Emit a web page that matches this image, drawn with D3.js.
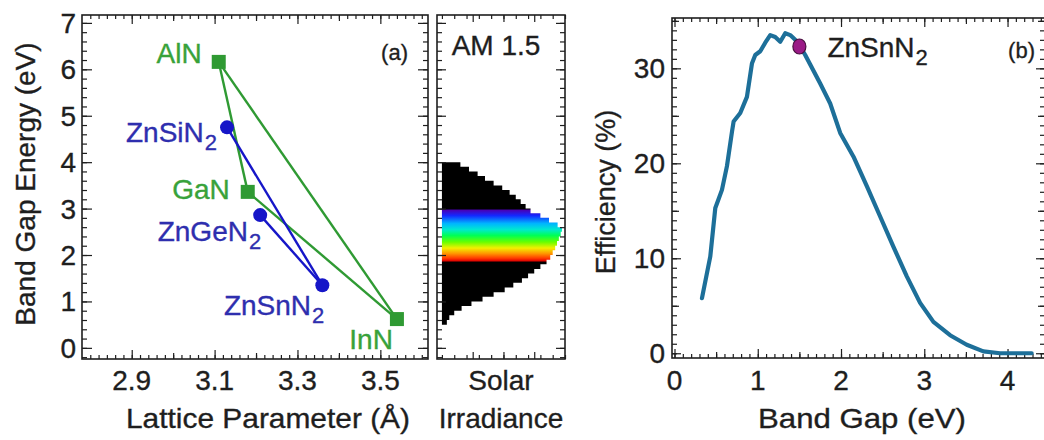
<!DOCTYPE html>
<html>
<head>
	<script src="https://cdn.jsdelivr.net/npm/d3@7"></script>
	<style>
		html, body {
			padding: 0;
			margin: 0;
			background: white;
		}
		text {
			font-family: "Liberation Sans", Arial, sans-serif;
			stroke-width: 0.35;
			paint-order: stroke;
		}
	</style>
</head>
<body>
	<div id="chart"></div>
	<script>
		// ---- data ----
		// panel (a): nitrides, lattice parameter (A) vs band gap (eV)
		var nitrideNames = ["AlN", "GaN", "InN"];
		var nitrideA = [3.11, 3.18, 3.54];
		var nitrideE = [6.16, 3.36, 0.62];
		var znNames = ["ZnSiN", "ZnGeN", "ZnSnN"];
		var znA = [3.13, 3.21, 3.36];
		var znE = [4.75, 2.86, 1.35];
		// tie lines, by index
		var nitrideLinks = [[0, 1], [1, 2], [0, 2]];
		var znLinks = [[0, 2], [1, 2]];

		// AM 1.5 spectrum, photon energy (eV) vs relative irradiance
		var solarE = [0.5, 0.6, 0.7, 0.8, 0.9, 1.0, 1.1, 1.2, 1.3, 1.4, 1.5, 1.6, 1.7, 1.8, 1.9, 2.0,
			2.1, 2.2, 2.3, 2.4, 2.5, 2.6, 2.7, 2.8, 2.9, 3.0, 3.1, 3.2, 3.3, 3.4, 3.5, 3.6, 3.7, 3.8, 3.9, 4.0];
		var solarI = [0.04, 0.06, 0.10, 0.16, 0.24, 0.33, 0.42, 0.51, 0.58, 0.65, 0.70, 0.75, 0.80, 0.85, 0.88, 0.90,
			0.92, 0.935, 0.95, 0.965, 0.975, 0.94, 0.87, 0.80, 0.72, 0.68, 0.64, 0.60, 0.55, 0.49, 0.42, 0.35, 0.29, 0.22, 0.15, 0.06];
		// visible band colours by energy (eV)
		var bandE = [2.99, 2.97, 2.85, 2.68, 2.55, 2.42, 2.28, 2.15, 2.03, 1.93, 1.87, 1.85];
		var bandColor = ["#000000", "#4a00b4", "#1428ff", "#00b4ff", "#00e8d0", "#00ff55", "#66ff00",
			"#f2f000", "#ff9400", "#ff3a00", "#e00000", "#000000"];

		// panel (b): efficiency (%) vs band gap (eV)
		var gapE = [0.33, 0.43, 0.49, 0.52, 0.57, 0.63, 0.69, 0.71, 0.79, 0.87, 0.93, 0.97, 1.03, 1.09, 1.15,
			1.21, 1.27, 1.33, 1.39, 1.45, 1.51, 1.57, 1.63, 1.75, 1.87, 1.99, 2.15, 2.31, 2.47, 2.63,
			2.79, 2.95, 3.11, 3.31, 3.51, 3.71, 3.91, 4.29];
		var effic = [5.8, 10.2, 15.3, 16.0, 17.2, 19.7, 23.3, 24.4, 25.3, 27.0, 30.5, 31.4, 31.8, 32.7, 33.5,
			33.3, 32.8, 33.7, 33.5, 33.0, 32.3, 31.4, 30.4, 28.4, 26.3, 23.2, 20.7, 17.6, 14.4, 11.2,
			8.1, 5.3, 3.3, 1.9, 0.9, 0.2, 0.0, 0.0];
		var markE = 1.5, markEff = 32.3;

		var xTicksA = [2.9, 3.1, 3.3, 3.5];
		var yTicksA = [0, 1, 2, 3, 4, 5, 6, 7];
		var xTicksB = [0, 1, 2, 3, 4];
		var yTicksB = [0, 10, 20, 30];

		// ---- layout ----
		var W = 1044, H = 440;
		var green = "#2f9a33", greenText = "#38a23a";
		var blue = "#1616c8", blueText = "#2e2eae";
		var curveColor = "#1d6f99";
		var ink = "#1e1e1e";
		var fs = 28, fsSub = 22;

		var svg = d3.select("#chart").append("svg")
			.attr("width", W)
			.attr("height", H)
			.style("background-color", "white");

		var boxA = {l: 82, r: 428, t: 15, b: 359};
		var boxS = {l: 437, r: 565, t: 15, b: 359};
		var boxB = {l: 672, r: 1045, t: 18, b: 358};

		var xA = d3.scaleLinear().domain([2.78, 3.615]).range([boxA.l, boxA.r]);
		var yE = d3.scaleLinear().domain([-0.24, 7.17]).range([boxA.b, boxA.t]);
		var xS = d3.scaleLinear().domain([-0.04, 1.0]).range([boxS.l, boxS.r]);
		var xB = d3.scaleLinear().domain([-0.03, 4.45]).range([boxB.l, boxB.r]);
		var yB = d3.scaleLinear().domain([-0.5, 35.3]).range([boxB.b, boxB.t]);

		function label(x, y, str, color, anchor, size) {
			return svg.append("text")
				.attr("x", x).attr("y", y)
				.attr("text-anchor", anchor || "middle")
				.attr("font-size", size || fs)
				.attr("fill", color || ink)
				.attr("stroke", color || ink)
				.text(str);
		}

		// ticks pointing inward, on all four sides
		function ticks(box, xs, ys, xsets, ysets) {
			var g = svg.append("g");
			xsets.forEach(function(s) {
				g.append("g").attr("transform", "translate(0," + box.b + ")")
					.call(d3.axisBottom(xs).tickValues(s.v).tickSizeInner(-s.len).tickSizeOuter(0).tickFormat(""));
				g.append("g").attr("transform", "translate(0," + box.t + ")")
					.call(d3.axisTop(xs).tickValues(s.v).tickSizeInner(-s.len).tickSizeOuter(0).tickFormat(""));
			});
			ysets.forEach(function(s) {
				g.append("g").attr("transform", "translate(" + box.l + ",0)")
					.call(d3.axisLeft(ys).tickValues(s.v).tickSizeInner(-s.len).tickSizeOuter(0).tickFormat(""));
				g.append("g").attr("transform", "translate(" + box.r + ",0)")
					.call(d3.axisRight(ys).tickValues(s.v).tickSizeInner(-s.len).tickSizeOuter(0).tickFormat(""));
			});
			g.selectAll(".domain").remove();
			g.selectAll("line").attr("stroke", ink).attr("stroke-width", 1.2);
			svg.append("rect")
				.attr("x", box.l).attr("y", box.t)
				.attr("width", box.r - box.l).attr("height", box.b - box.t)
				.attr("fill", "none").attr("stroke", ink).attr("stroke-width", 1.6);
		}

		function steps(a, b, st) {
			return d3.range(Math.round((b - a) / st) + 1).map(function(i) { return +(a + i * st).toFixed(3); });
		}

		function subLabel(x, y, name, color, anchor) {
			var t = label(x, y, null, color, anchor);
			t.append("tspan").text(name);
			t.append("tspan").attr("font-size", fsSub).attr("dx", 1).attr("dy", 8).text("2");
			return t;
		}

		// ---- panel (a) ----
		ticks(boxA, xA, yE,
			[{v: steps(2.8, 3.6, 0.02), len: 4}, {v: [3.0, 3.2, 3.4], len: 6}, {v: xTicksA, len: 9}],
			[{v: steps(-0.2, 7.0, 0.2), len: 5}, {v: yTicksA, len: 10}]);

		xTicksA.forEach(function(d) { label(xA(d), 390, d3.format(".1f")(d)); });
		yTicksA.forEach(function(d) { label(76, yE(d) + 10, d, ink, "end"); });

		label((boxA.l + boxA.r) / 2 + 13, 428, "Lattice Parameter (Å)")
			.attr("textLength", 284).attr("lengthAdjust", "spacingAndGlyphs");

		label(0, 0, "Band Gap Energy (eV)")
			.attr("x", null).attr("y", null)
			.attr("transform", "translate(35," + ((boxA.t + boxA.b) / 2 - 3) + ") rotate(-90)");

		label(408, 60, "(a)", ink, "end", 22)
			.attr("font-family", "'Open Sans', sans-serif")
			.attr("stroke-width", 0);

		// tie lines
		nitrideLinks.forEach(function(p) {
			svg.append("line")
				.attr("x1", xA(nitrideA[p[0]])).attr("y1", yE(nitrideE[p[0]]))
				.attr("x2", xA(nitrideA[p[1]])).attr("y2", yE(nitrideE[p[1]]))
				.attr("stroke", green).attr("stroke-width", 2.4);
		});
		znLinks.forEach(function(p) {
			svg.append("line")
				.attr("x1", xA(znA[p[0]])).attr("y1", yE(znE[p[0]]))
				.attr("x2", xA(znA[p[1]])).attr("y2", yE(znE[p[1]]))
				.attr("stroke", blue).attr("stroke-width", 2.4);
		});

		svg.append("g").selectAll("rect")
			.data(nitrideA).enter().append("rect")
			.attr("x", function(d) { return xA(d) - 7; })
			.attr("y", function(d, i) { return yE(nitrideE[i]) - 7; })
			.attr("width", 14).attr("height", 14)
			.attr("fill", green);

		svg.append("g").selectAll("circle")
			.data(znA).enter().append("circle")
			.attr("cx", function(d) { return xA(d); })
			.attr("cy", function(d, i) { return yE(znE[i]); })
			.attr("r", 7)
			.attr("fill", blue);

		// labels: offsets from the marker to the text end / baseline
		var nitrideLabelOff = [[-17, 1], [-18, 7], [-4, 30]];
		var znLabelOff = [[-10, 15], [1, 26], [2, 30]];

		nitrideNames.forEach(function(n, i) {
			label(xA(nitrideA[i]) + nitrideLabelOff[i][0], yE(nitrideE[i]) + nitrideLabelOff[i][1], n, greenText, "end");
		});
		znNames.forEach(function(n, i) {
			subLabel(xA(znA[i]) + znLabelOff[i][0], yE(znE[i]) + znLabelOff[i][1], n, blueText, "end");
		});

		// ---- AM 1.5 panel ----
		var defs = svg.append("defs");
		var gy0 = yE(bandE[0]), gy1 = yE(bandE[bandE.length - 1]);
		var grad = defs.append("linearGradient")
			.attr("id", "rainbow")
			.attr("gradientUnits", "userSpaceOnUse")
			.attr("x1", 0).attr("x2", 0)
			.attr("y1", gy0).attr("y2", gy1);
		bandE.forEach(function(e, i) {
			grad.append("stop")
				.attr("offset", (yE(e) - gy0) / (gy1 - gy0))
				.attr("stop-color", bandColor[i]);
		});

		var solar = solarE.map(function(e, i) { return {e: e, v: solarI[i]}; });
		var area = d3.area()
			.y(function(d) { return yE(d.e); })
			.x0(xS(0))
			.x1(function(d) { return xS(d.v); })
			.curve(d3.curveStepBefore);
		svg.append("path")
			.datum(solar)
			.attr("d", area)
			.attr("fill", "url(#rainbow)");

		ticks(boxS, xS, yE,
			[{v: steps(0, 1, 0.1), len: 4}, {v: [0.25, 0.5, 0.75], len: 7}],
			[{v: steps(-0.2, 7.0, 0.2), len: 5}, {v: yTicksA, len: 9}]);

		label(496, 55, "AM 1.5");
		label((boxS.l + boxS.r) / 2, 390, "Solar");
		label((boxS.l + boxS.r) / 2, 428, "Irradiance");

		// ---- panel (b) ----
		ticks(boxB, xB, yB,
			[{v: steps(0, 4.4, 0.1), len: 4}, {v: [0.5, 1.5, 2.5, 3.5], len: 6}, {v: xTicksB, len: 9}],
			[{v: steps(0, 35, 1), len: 5}, {v: [5, 15, 25, 35], len: 7}, {v: yTicksB, len: 9}]);

		xTicksB.forEach(function(d) { label(xB(d), 390, d); });
		yTicksB.forEach(function(d) { label(665, yB(d) + 10, d, ink, "end"); });

		label(862, 428, "Band Gap (eV)")
			.attr("textLength", 208).attr("lengthAdjust", "spacingAndGlyphs");

		label(0, 0, "Efficiency (%)")
			.attr("x", null).attr("y", null)
			.attr("font-size", 27)
			.attr("transform", "translate(615,192) rotate(-90)");

		var effLine = d3.line()
			.x(function(d, i) { return xB(gapE[i]); })
			.y(function(d) { return yB(d); });
		svg.append("path")
			.datum(effic)
			.attr("d", effLine)
			.attr("fill", "none")
			.attr("stroke", curveColor)
			.attr("stroke-width", 4.2)
			.attr("stroke-linejoin", "round")
			.attr("stroke-linecap", "round");

		svg.append("ellipse")
			.attr("cx", xB(markE)).attr("cy", yB(markEff))
			.attr("rx", 6.5).attr("ry", 7.5)
			.attr("fill", "#9a1a86")
			.attr("stroke", "#4a1040").attr("stroke-width", 1.2);

		subLabel(xB(markE) + 28, yB(markEff) + 11, "ZnSnN", ink, "start");

		label(1035, 58, "(b)", ink, "end", 22)
			.attr("font-family", "'Open Sans', sans-serif")
			.attr("stroke-width", 0);
	</script>
</body>
</html>
